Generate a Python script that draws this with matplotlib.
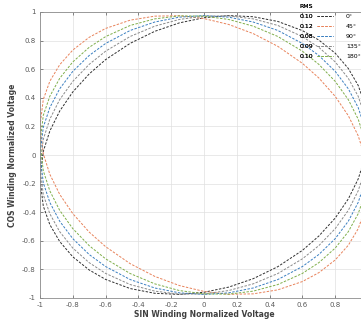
import numpy as np
import matplotlib as mpl
mpl.use('Agg')
import matplotlib.pyplot as plt
from matplotlib.lines import Line2D

# sample positions on the SIN axis (shared by all traces)
x_sin = [-1, -0.98, -0.94, -0.88, -0.8, -0.7, -0.6, -0.45, -0.3, -0.15, 0,
         0.15, 0.3, 0.45, 0.6, 0.7, 0.8, 0.88, 0.94, 0.98, 1]

# COS winding voltage, upper / lower branch of each trace
cos_up_0 = [-0.169, 0.025, 0.168, 0.307, 0.441, 0.567, 0.667, 0.781, 0.865, 0.924, 0.960,
            0.975, 0.967, 0.934, 0.870, 0.804, 0.712, 0.605, 0.487, 0.357, 0.169]
cos_lo_0 = [-0.169, -0.357, -0.487, -0.605, -0.712, -0.804, -0.870, -0.934, -0.967, -0.975, -0.960,
            -0.924, -0.865, -0.781, -0.667, -0.567, -0.441, -0.307, -0.168, -0.025, 0.169]

cos_up_45 = [0.203, 0.388, 0.516, 0.631, 0.734, 0.823, 0.885, 0.943, 0.971, 0.974, 0.954,
             0.913, 0.849, 0.760, 0.641, 0.539, 0.410, 0.275, 0.135, -0.009, -0.203]
cos_lo_45 = [0.203, 0.009, -0.135, -0.275, -0.410, -0.539, -0.641, -0.760, -0.849, -0.913, -0.954,
             -0.974, -0.971, -0.943, -0.885, -0.823, -0.734, -0.631, -0.516, -0.388, -0.203]

cos_up_90 = [0, 0.194, 0.332, 0.463, 0.585, 0.696, 0.780, 0.871, 0.930, 0.964, 0.975,
             0.964, 0.930, 0.871, 0.780, 0.696, 0.585, 0.463, 0.332, 0.194, 0]
cos_lo_90 = [0, -0.194, -0.332, -0.463, -0.585, -0.696, -0.780, -0.871, -0.930, -0.964, -0.975,
             -0.964, -0.930, -0.871, -0.780, -0.696, -0.585, -0.463, -0.332, -0.194, 0]

cos_up_135 = [-0.085, 0.110, 0.251, 0.387, 0.515, 0.634, 0.726, 0.829, 0.901, 0.948, 0.971,
              0.973, 0.952, 0.906, 0.828, 0.753, 0.651, 0.536, 0.411, 0.277, 0.085]
cos_lo_135 = [-0.085, -0.277, -0.411, -0.536, -0.651, -0.753, -0.828, -0.906, -0.952, -0.973, -0.971,
              -0.948, -0.901, -0.829, -0.726, -0.634, -0.515, -0.387, -0.251, -0.110, 0.085]

cos_up_180 = [0.085, 0.277, 0.411, 0.536, 0.651, 0.753, 0.828, 0.906, 0.952, 0.973, 0.971,
              0.948, 0.901, 0.829, 0.726, 0.634, 0.515, 0.387, 0.251, 0.110, -0.085]
cos_lo_180 = [0.085, -0.110, -0.251, -0.387, -0.515, -0.634, -0.726, -0.829, -0.901, -0.948, -0.971,
              -0.973, -0.952, -0.906, -0.828, -0.753, -0.651, -0.536, -0.411, -0.277, -0.085]

rms_vals   = ['0.10', '0.12', '0.08', '0.09', '0.10']
angle_lbls = ['0°', '45°', '90°', '135°', '180°']
tick_vals  = [-1, -0.8, -0.6, -0.4, -0.2, 0, 0.2, 0.4, 0.6, 0.8, 1]
tick_lbls  = ['-1', '-0.8', '-0.6', '-0.4', '-0.2', '0', '0.2', '0.4', '0.6', '0.8', '1']

traces = [(cos_up_0, cos_lo_0, '#303030'),
          (cos_up_45, cos_lo_45, '#e8825a'),
          (cos_up_90, cos_lo_90, '#3a7fc0'),
          (cos_up_135, cos_lo_135, '#8a8a8a'),
          (cos_up_180, cos_lo_180, '#7fae4a')]

mpl.rc('font', family='DejaVu Sans', size=5)

fig = plt.figure(figsize=(3.61, 3.22), dpi=100)
ax = fig.add_axes([40/361., 1 - 298/322., 328/361., 286/322.])

lines = []
for up, lo, col in traces:
	# closed loop: upper branch left->right, lower branch back
	xs = list(x_sin) + list(x_sin[::-1])
	ys = list(up) + list(lo[::-1])
	l, = ax.plot(xs, ys, ls=(0, (2.5, 1.5)), lw=0.7, c=col)
	lines.append(l)

ax.set_xlim(-1, 1)
ax.set_ylim(-1, 1)
ax.set_xticks(tick_vals)
# the x=1 label falls outside the cropped figure
ax.set_xticklabels(tick_lbls[:-1] + [''])
ax.set_yticks(tick_vals)
ax.set_yticklabels(tick_lbls)
ax.tick_params(direction='in', length=2, width=0.5, colors='0.35', labelsize=5, pad=3,
               top=True, right=True)
ax.grid(True, color='0.88', lw=0.5)
for sp in ax.spines.values():
	sp.set_color('0.55')
	sp.set_linewidth(0.6)

ax.set_xlabel('SIN Winding Normalized Voltage', fontsize=5.5, fontweight='bold', color='0.25', labelpad=1)
ax.set_ylabel('COS Winding Normalized Voltage', fontsize=5.5, fontweight='bold', color='0.25', labelpad=4)

leg1 = fig.legend(lines, rms_vals, title='RMS', loc='upper left', bbox_to_anchor=(296/361., 1 - 1/322.),
                  markerfirst=False, frameon=False, fontsize=4.5, title_fontsize=4.5,
                  handlelength=2.6, handletextpad=0.6, labelspacing=0.75, borderpad=0)
leg1._legend_box.align = 'left'
blank = [Line2D([], [], alpha=0) for _ in angle_lbls]
leg2 = fig.legend(blank, angle_lbls, title=' ', loc='upper left', bbox_to_anchor=(343/361., 1 - 1/322.),
                  frameon=False, fontsize=4.5, title_fontsize=4.5,
                  handlelength=0, handletextpad=0, labelspacing=0.75, borderpad=0)
fig.add_artist(leg1)

plt.savefig('out.png', dpi=100)
